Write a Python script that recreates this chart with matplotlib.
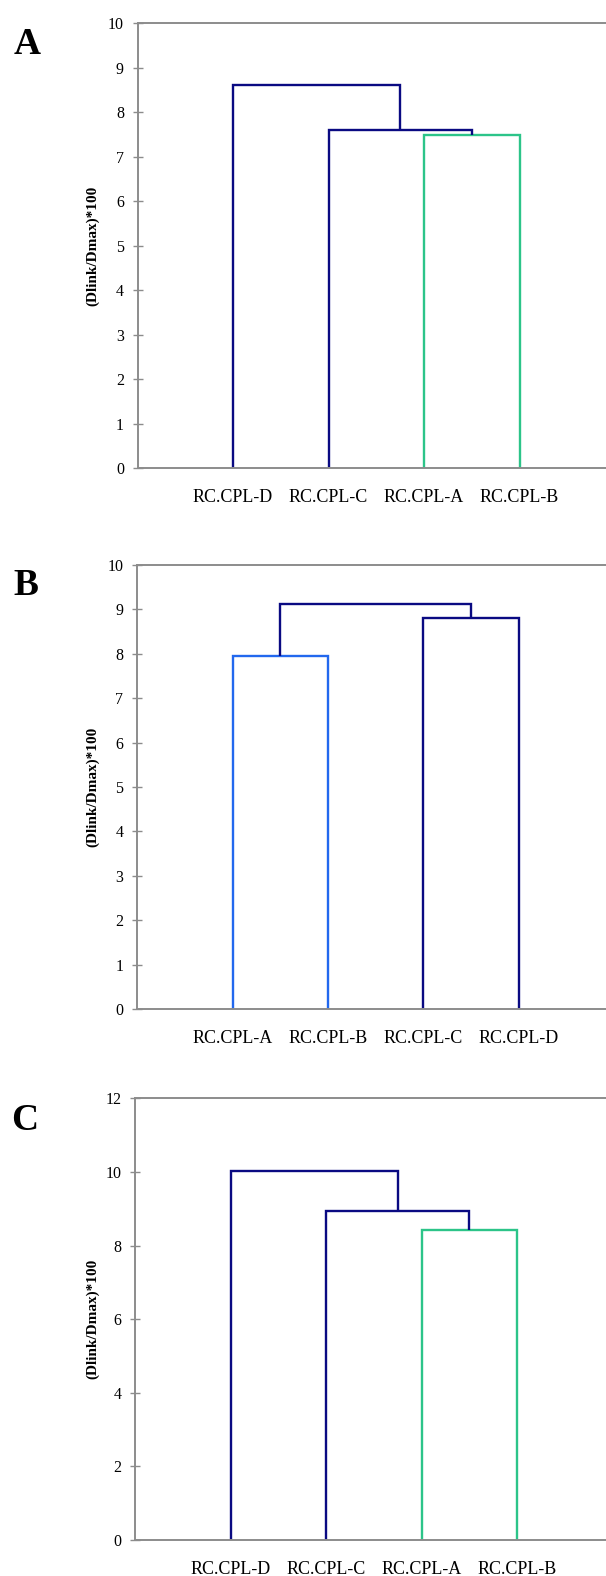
import matplotlib
matplotlib.use("Agg")
import matplotlib.pyplot as plt

plt.rcParams['font.family'] = ['Liberation Serif', 'DejaVu Serif']

# leaf order along x, then merges (left node, right node, height); leaves are nodes 0-3
leaves_a = ["RC.CPL-D", "RC.CPL-C", "RC.CPL-A", "RC.CPL-B"]
merges_a = [(2, 3, 7.48), (1, 4, 7.60), (0, 5, 8.62)]

leaves_b = ["RC.CPL-A", "RC.CPL-B", "RC.CPL-C", "RC.CPL-D"]
merges_b = [(0, 1, 7.94), (2, 3, 8.79), (4, 5, 9.11)]

leaves_c = ["RC.CPL-D", "RC.CPL-C", "RC.CPL-A", "RC.CPL-B"]
merges_c = [(2, 3, 8.41), (1, 4, 8.93), (0, 5, 10.03)]

navy = "#0a0a82"
green = "#2cc489"
blue = "#2268ee"
colors_a = [green, navy, navy]
colors_b = [blue, navy, navy]
colors_c = [green, navy, navy]

W, H = 606, 1576
fig = plt.figure(figsize=(W / 100, H / 100), dpi=100)

grey = "#8c8c8c"


def dendro(ax, leaves, merges, colors):
    xs = [i + 1 for i in range(len(leaves))]
    hs = [0.0] * len(leaves)
    for (l, r, h), c in zip(merges, colors):
        ax.plot([xs[l], xs[l], xs[r], xs[r]], [hs[l], h, h, hs[r]],
                color=c, lw=1.7, solid_capstyle='butt', solid_joinstyle='miter')
        xs.append((xs[l] + xs[r]) / 2)
        hs.append(h)
    ax.set_xticks(range(1, len(leaves) + 1))
    ax.set_xticklabels(leaves, fontsize=13)


def make_axes(left, top, bottom, ymax, ystep):
    unit = 95.5
    ax = fig.add_axes([left / W, 1 - bottom / H, 5 * unit / W, (bottom - top) / H])
    ax.set_xlim(0, 5)
    ax.set_ylim(0, ymax)
    ax.set_yticks(range(0, ymax + 1, ystep))
    ax.spines['right'].set_visible(False)
    for s in ['left', 'top', 'bottom']:
        ax.spines[s].set_color(grey)
        ax.spines[s].set_linewidth(1.4)
    ax.tick_params(axis='y', direction='inout', length=6.5, width=1, color=grey,
                   labelsize=11.5, pad=6.5)
    ax.tick_params(axis='x', length=0, pad=15)
    ax.set_ylabel("(Dlink/Dmax)*100", fontsize=11, fontweight='bold', va='center')
    ax.yaxis.set_label_coords((93 - left) / (5 * unit), 0.5)
    return ax


ax_a = make_axes(137.5, 23.3, 468, 10, 1)
dendro(ax_a, leaves_a, merges_a, colors_a)

ax_b = make_axes(137, 564.7, 1009.3, 10, 1)
dendro(ax_b, leaves_b, merges_b, colors_b)

ax_c = make_axes(135, 1098.3, 1540, 12, 2)
dendro(ax_c, leaves_c, merges_c, colors_c)

for letter, x, y in [("A", 27.5, 44.5), ("B", 26, 585.5), ("C", 24.5, 1120.5)]:
    fig.text(x / W, 1 - y / H, letter, fontsize=27, fontweight='bold',
             ha='center', va='center')

fig.savefig("out.png", dpi=100)
